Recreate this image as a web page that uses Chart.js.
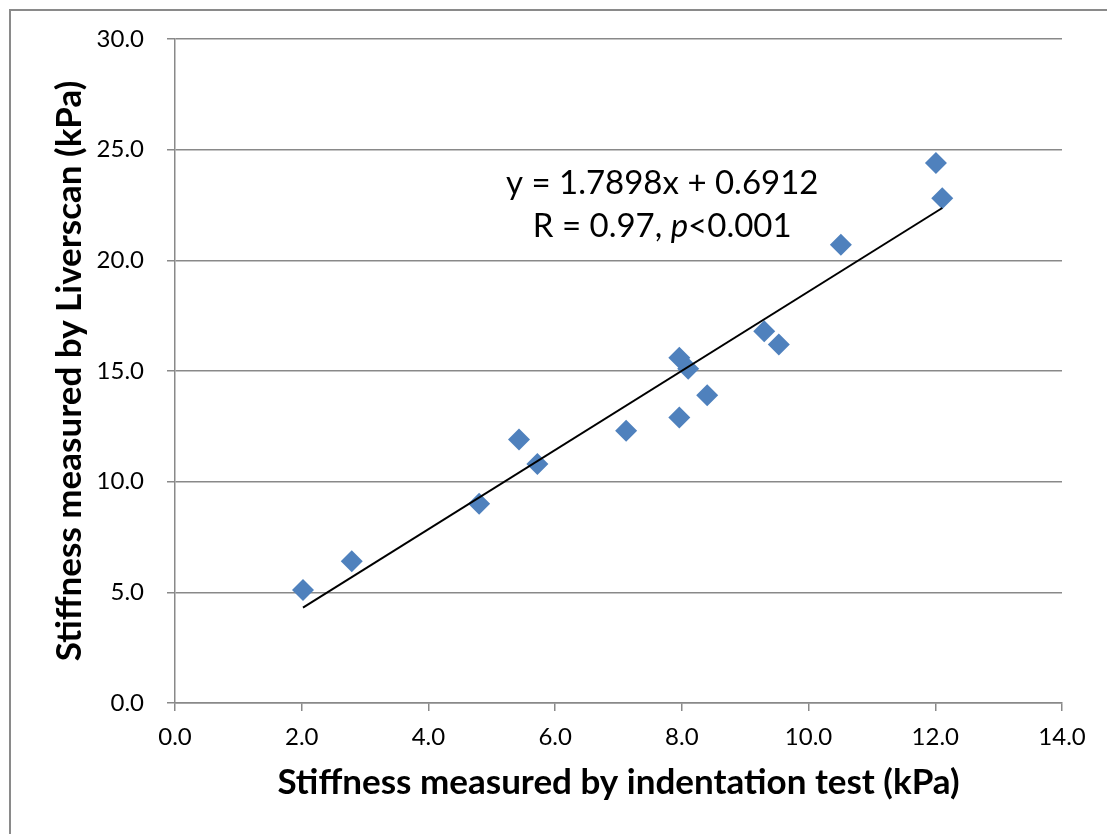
<!DOCTYPE html>
<html>
<head>
<meta charset="utf-8">
<script src="https://cdn.jsdelivr.net/npm/chart.js@4.4.1/dist/chart.umd.min.js"></script>
<style>
  html, body { margin: 0; padding: 0; background: #fff; overflow: hidden; }
  #frame {
    position: absolute; left: 9px; top: 9px; width: 1120px; height: 850px;
    border-left: 2px solid #8a8a8a; border-top: 2px solid #8a8a8a;
  }
  #wrap { position: absolute; left: 0; top: 0; width: 1107px; height: 834px; }
</style>
</head>
<body>
<div id="frame"></div>
<div id="wrap"><canvas id="chart" width="1107" height="834"></canvas></div>
<script>
// indentation test stiffness (x) vs Liverscan stiffness (y), kPa
const indentation = [2.02, 2.79, 4.80, 5.43, 5.72, 7.12, 7.96, 8.10, 7.96, 8.40, 9.30, 9.53, 10.51, 12.01, 12.11];
const liverscan = [5.1, 6.4, 9.0, 11.9, 10.8, 12.3, 15.6, 15.1, 12.9, 13.9, 16.8, 16.2, 20.7, 24.4, 22.8];

// linear fit as printed on the chart
const slope = 1.7898;
const intercept = 0.6912;
const fitLabel = "y = 1.7898x + 0.6912";

const xTicks = [0, 2, 4, 6, 8, 10, 12, 14];
const yTicks = [0, 5, 10, 15, 20, 25, 30];

const gray = "#898989";
const font = "Lato";
const eqSize = 33;

const points = indentation.map((x, i) => ({ x: x, y: liverscan[i] }));
const xMin = Math.min(...indentation);
const xMax = Math.max(...indentation);
const trend = [
  { x: xMin, y: slope * xMin + intercept },
  { x: xMax, y: slope * xMax + intercept },
];

// equation text, drawn on top of the plot
const fitText = {
  id: "fitText",
  afterDraw(chart) {
    const ctx = chart.ctx;
    const xs = chart.scales.x;
    const ys = chart.scales.y;
    const cx = xs.getPixelForValue(7.69);
    const normal = eqSize + "px " + font;
    const italic = "italic " + eqSize + "px " + font;
    ctx.save();
    ctx.fillStyle = "#000";
    ctx.textBaseline = "middle";
    ctx.textAlign = "left";
    ctx.font = normal;
    let w = ctx.measureText(fitLabel).width;
    ctx.fillText(fitLabel, cx - w / 2, ys.getPixelForValue(23.5));

    const a = "R = 0.97, ", b = "p", c = "<0.001";
    const wa = ctx.measureText(a).width;
    const wc = ctx.measureText(c).width;
    ctx.font = italic;
    const wb = ctx.measureText(b).width;
    let x0 = cx - (wa + wb + wc) / 2;
    const y2 = ys.getPixelForValue(21.55);
    ctx.font = normal;
    ctx.fillText(a, x0, y2);
    ctx.font = italic;
    ctx.fillText(b, x0 + wa, y2);
    ctx.font = normal;
    ctx.fillText(c, x0 + wa + wb, y2);
    ctx.restore();
  },
};

new Chart(document.getElementById("chart"), {
  type: "scatter",
  plugins: [fitText],
  data: {
    datasets: [
      {
        type: "line",
        data: trend,
        borderColor: "#000",
        borderWidth: 2,
        pointRadius: 0,
        fill: false,
        order: 0,
      },
      {
        data: points,
        pointStyle: "rectRot",
        pointRadius: 11,
        pointHoverRadius: 11,
        backgroundColor: "#4F81BD",
        borderColor: "#4F81BD",
        borderWidth: 0,
        order: 1,
      },
    ],
  },
  options: {
    responsive: false,
    animation: false,
    layout: { padding: { left: 49, top: 39, right: 45, bottom: 30 } },
    plugins: { legend: { display: false }, tooltip: { enabled: false } },
    scales: {
      x: {
        type: "linear",
        min: 0,
        max: 14,
        afterFit: (s) => { s.height = 101; },
        afterBuildTicks: (s) => { s.ticks = xTicks.map((v) => ({ value: v })); },
        ticks: {
          color: "#000",
          padding: 12,
          font: { family: font, size: 24 },
          callback: (v) => v.toFixed(1),
        },
        grid: { drawOnChartArea: false, drawTicks: true, tickLength: 8, color: gray, lineWidth: 1.5 },
        border: { display: true, color: gray, width: 1.5 },
        title: {
          display: true,
          text: "Stiffness measured by indentation test (kPa)",
          color: "#000",
          padding: 0,
          font: { family: font, size: 35, weight: "bold" },
        },
      },
      y: {
        type: "linear",
        min: 0,
        max: 30,
        afterFit: (s) => { s.width = 126; },
        afterBuildTicks: (s) => { s.ticks = yTicks.map((v) => ({ value: v })); },
        ticks: {
          color: "#000",
          padding: 23,
          font: { family: font, size: 24 },
          callback: (v) => v.toFixed(1),
        },
        grid: { drawOnChartArea: true, drawTicks: true, tickLength: 8, color: gray, lineWidth: 1.5 },
        border: { display: true, color: gray, width: 1.5 },
        title: {
          display: true,
          text: "Stiffness measured by Liverscan (kPa)",
          color: "#000",
          padding: 0,
          font: { family: font, size: 35, weight: "bold" },
        },
      },
    },
  },
});
</script>
</body>
</html>
